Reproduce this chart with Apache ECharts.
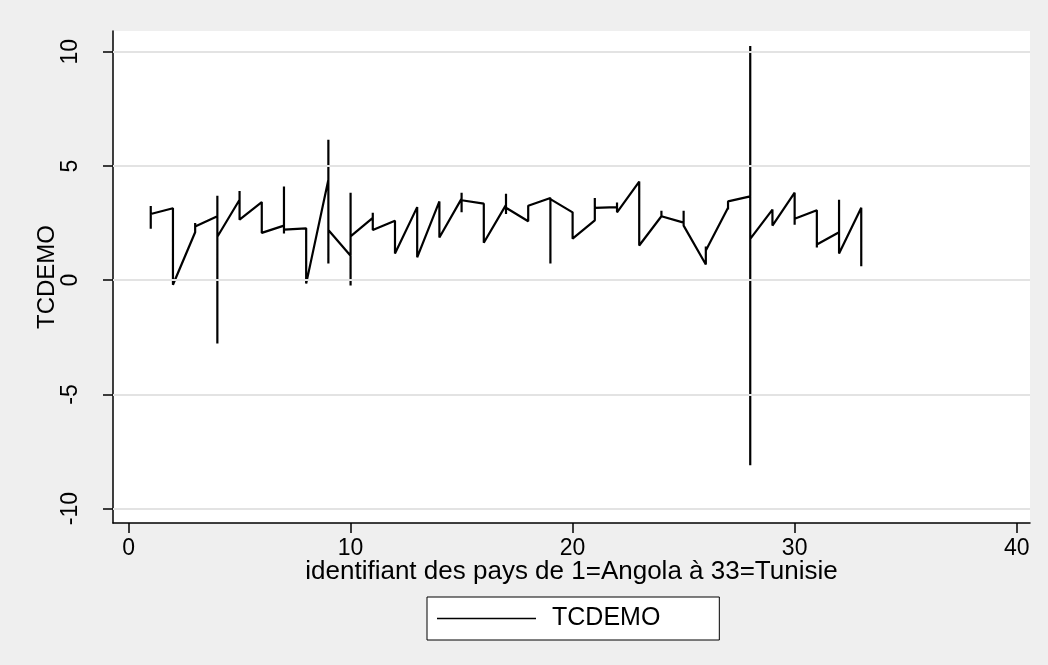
<!DOCTYPE html>
<html>
<head>
<meta charset="utf-8">
<script src="https://cdn.jsdelivr.net/npm/echarts@6/dist/echarts.min.js"></script>
<style>
html,body{margin:0;padding:0;background:#efefef;}
#chart{width:1048px;height:665px;}
</style>
</head>
<body>
<div id="chart"></div>
<script>
// Observations in data order: country id (1=Angola ... 33=Tunisie) and TCDEMO value
const countryId = [
  1,1,1, 2,2, 3,3,3, 4,4,4,4, 5,5,5, 6,6, 7,7,7,7, 8,8, 9,9,9,9, 10,10,10,10,
  11,11,11, 12,12, 13,13,13, 14,14, 15,15,15,15, 16,16, 17,17,17,17, 18,18,
  19,19,19, 20,20, 21,21,21, 22,22,22, 23,23, 24,24,24, 25,25,25, 26,26,26,
  27,27,27,27, 28,28,28,28, 29,29, 30,30,30, 31,31,31, 32,32,32, 33,33
];
const tcdemo = [
  3.25,2.25,2.9, 3.15,-0.2, 2.1,2.5,2.35, 2.8,3.7,-2.77,1.9, 3.52,3.9,2.65, 3.42,2.07,
  2.39,4.1,2.04,2.21, 2.27,-0.15, 4.4,6.15,0.73,2.2, 1.07,3.83,-0.23,1.92,
  2.73,2.95,2.2, 2.6,1.17, 3.2,3.25,1.0, 3.45,1.87, 3.57,3.83,2.97,3.5, 3.35,1.64,
  3.3,3.78,2.9,3.17, 2.58,3.26, 3.6,0.73,3.55, 2.97,1.82, 2.62,3.6,3.17, 3.2,3.4,2.97,
  4.32,1.52, 2.8,3.04,2.8, 2.52,3.04,2.39, 0.69,1.48,1.3, 3.17,3.45,3.09,3.45,
  3.67,10.25,-8.1,1.81, 3.09,2.39, 3.83,2.43,2.69, 3.06,1.43,1.56, 2.1,3.52,1.17, 3.17,0.61
];
const xTicks = [0, 10, 20, 30, 40];
const yTicks = [-10, -5, 0, 5, 10];
const seriesName = 'TCDEMO';
const xTitle = 'identifiant des pays de 1=Angola à 33=Tunisie';

const points = countryId.map((c, i) => [c, tcdemo[i]]);
const font = 'Liberation Sans, Arial, Helvetica, sans-serif';

const chart = echarts.init(document.getElementById('chart'), null, {renderer: 'canvas'});
chart.setOption({
  backgroundColor: '#efefef',
  animation: false,
  grid: {
    left: 113, top: 31, right: 18, bottom: 142,
    show: true, backgroundColor: '#ffffff', borderWidth: 0
  },
  legend: {
    data: [{name: seriesName, icon: 'rect'}],
    left: 427, top: 597,
    backgroundColor: '#ffffff', borderColor: '#000000', borderWidth: 1, borderRadius: 0,
    padding: [9, 59, 9, 10],
    itemWidth: 99, itemHeight: 1.6,
    itemStyle: {color: '#000'},
    textStyle: {fontFamily: font, fontSize: 25, color: '#000', padding: [0, 0, 0, 11]}
  },
  xAxis: {
    type: 'value', min: -0.7, max: 40.6,
    name: xTitle, nameLocation: 'middle', nameGap: 36, nameMoveOverlap: false,
    nameTextStyle: {fontFamily: font, fontSize: 26, color: '#000'},
    axisLine: {show: true, onZero: false, lineStyle: {color: '#000', width: 1.5}},
    axisTick: {show: true, length: 10, customValues: xTicks, lineStyle: {color: '#000', width: 1.5}},
    axisLabel: {show: true, customValues: xTicks, margin: 14, fontFamily: font, fontSize: 23, color: '#000'},
    splitLine: {show: false}
  },
  yAxis: {
    type: 'value', min: -10.63, max: 10.91,
    name: seriesName, nameLocation: 'middle', nameGap: 54, nameRotate: 90, nameMoveOverlap: false,
    nameTextStyle: {fontFamily: font, fontSize: 24, color: '#000'},
    axisLine: {show: true, onZero: false, lineStyle: {color: '#000', width: 1.5}},
    axisTick: {show: true, length: 10, customValues: yTicks, lineStyle: {color: '#000', width: 1.5}},
    axisLabel: {show: true, customValues: yTicks, rotate: 90, margin: 31, fontFamily: font, fontSize: 23, color: '#000'},
    splitLine: {show: false}
  },
  series: [
    {
      name: 'grid', type: 'line', data: [], z: 1, silent: true,
      markLine: {
        silent: true, symbol: ['none', 'none'], label: {show: false},
        lineStyle: {color: '#e3e3e3', width: 2, type: 'solid'},
        data: yTicks.map(v => ({yAxis: v}))
      }
    },
    {
      name: seriesName, type: 'line', data: points, z: 3,
      symbol: 'none', showSymbol: false,
      lineStyle: {color: '#000', width: 2.2},
      itemStyle: {color: '#000'}
    }
  ]
});
</script>
</body>
</html>
